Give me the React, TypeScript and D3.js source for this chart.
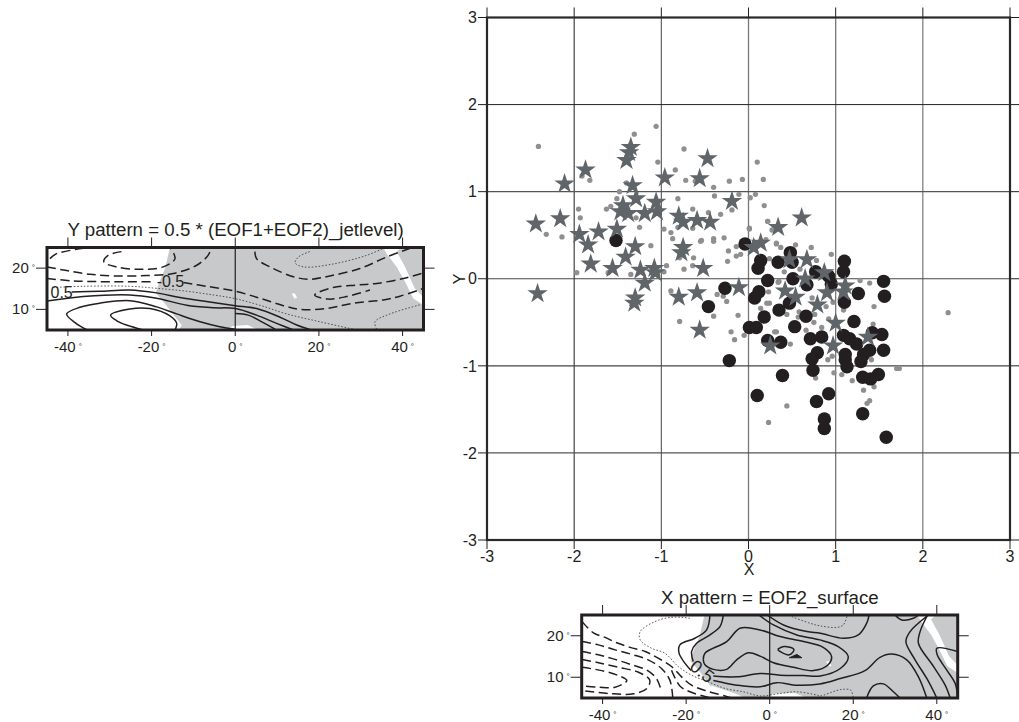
import React from "react";
import * as d3 from "d3";

type P = [number, number];

const starPoints: P[] = [[-1.35,1.51],[-1.37,1.45],[-1.40,1.36],[-0.47,1.38],[-1.87,1.25],[-2.11,1.09],[-0.96,1.16],[-0.56,1.15],[-1.33,1.07],[-1.29,0.92],[-1.06,0.88],[-0.19,0.89],[-1.44,0.84],[-1.47,0.77],[-1.38,0.75],[-1.19,0.75],[-1.05,0.77],[-0.80,0.72],[-0.75,0.65],[-0.59,0.67],[-0.44,0.65],[-2.16,0.69],[-2.44,0.63],[-1.51,0.57],[-1.72,0.54],[-1.94,0.51],[-1.84,0.39],[-1.30,0.37],[-0.75,0.36],[-0.77,0.30],[-1.41,0.25],[-1.81,0.17],[-1.56,0.12],[-1.24,0.10],[-1.08,0.12],[-1.07,0.07],[-0.52,0.12],[-1.19,-0.05],[-0.59,-0.16],[-0.80,-0.21],[-0.11,-0.10],[-1.30,-0.22],[-1.31,-0.28],[-2.42,-0.17],[-0.56,-0.59],[0.14,0.41],[0.06,0.36],[0.34,0.59],[0.61,0.70],[0.47,0.22],[0.67,0.22],[0.87,0.07],[0.65,0],[1.11,-0.08],[1.09,-0.15],[0.42,-0.14],[0.54,-0.21],[0.90,-0.16],[0.79,-0.30],[1.0,-0.51],[1.37,-0.67],[0.97,-0.77],[0.25,-0.77]];

const circlePoints: P[] = [[-1.52,0.44],[-0.04,0.40],[0.48,0.30],[0.14,0.21],[0.11,0.12],[0.34,0.19],[0.50,0.19],[0.22,-0.02],[0.51,0],[0.67,-0.07],[0.77,0.08],[0.92,0.03],[0.95,-0.06],[1.10,0.20],[1.09,0.08],[1.55,-0.03],[1.56,-0.20],[1.26,-0.17],[1.10,-0.27],[-0.27,-0.11],[-0.46,-0.32],[0.12,-0.15],[0.07,-0.22],[0.47,-0.28],[0.35,-0.36],[0.18,-0.44],[0.66,-0.43],[1.21,-0.49],[0.01,-0.56],[0.09,-0.56],[0.53,-0.55],[0.71,-0.69],[0.84,-0.67],[1.09,-0.65],[1.16,-0.69],[1.24,-0.75],[1.42,-0.62],[1.53,-0.64],[1.55,-0.82],[1.39,-0.82],[1.32,-0.87],[1.29,-0.95],[1.11,-0.87],[1.11,-0.93],[1.13,-1.01],[0.22,-0.71],[0.37,-0.73],[0.79,-0.85],[0.73,-0.92],[0.74,-1.05],[-0.22,-0.94],[0.39,-1.11],[1.31,-1.13],[1.40,-1.15],[1.49,-1.10],[0.10,-1.34],[0.78,-1.41],[0.92,-1.32],[1.31,-1.55],[0.87,-1.61],[0.87,-1.72],[1.58,-1.82]];

const dotPoints: P[] = [[-2.41,1.52],[-1.31,1.66],[-1.06,1.75],[-0.74,1.49],[-1.04,1.34],[-0.84,1.25],[0.10,1.34],[-1.91,1.18],[-1.82,1.13],[-0.72,1.13],[-0.61,1.12],[-0.22,1.12],[-0.07,1.14],[0.17,1.14],[-0.40,1.05],[-1.48,1.00],[-1.40,1.10],[-0.39,0.95],[-0.11,0.97],[0.08,0.97],[0.02,0.93],[-0.81,0.92],[-1.51,0.92],[-1.58,0.83],[-1.63,0.80],[-1.95,0.80],[0.18,0.84],[-1.93,0.70],[-0.64,0.80],[-0.19,0.79],[-0.46,0.76],[-0.32,0.74],[0.22,0.66],[-1.25,0.59],[-1.29,0.70],[-0.97,0.57],[-0.89,0.53],[-0.81,0.59],[-0.64,0.58],[0.01,0.58],[-2.32,0.51],[-2.14,0.48],[0.27,0.56],[-0.87,0.46],[-0.55,0.43],[-0.40,0.46],[-0.40,0.43],[-0.28,0.47],[0.20,0.45],[0.32,0.40],[-1.12,0.38],[-0.14,0.37],[-0.23,0.32],[-0.09,0.28],[-0.14,0.26],[-0.63,0.24],[-0.24,0.20],[-0.79,0.24],[-0.64,0.15],[-0.74,0.11],[-0.94,0.15],[-0.97,0.08],[-1.97,0.07],[-1.61,0.07],[-1.35,0.05],[-0.89,-0.14],[-0.36,-0.18],[-0.29,-0.20],[-0.25,-0.26],[-0.40,-0.43],[-0.12,-0.42],[-0.79,-0.49],[-0.20,-0.61],[-0.05,-0.65],[0.32,-0.61],[0.24,-0.28],[0.34,-0.04],[0.14,-0.34],[0.01,0.57],[-0.54,0.44],[0.22,0.66],[0.32,0.41],[0.37,0.36],[0.54,0.39],[0.72,0.36],[0.95,0.28],[0.24,0.23],[0.41,0.08],[0.59,0.11],[0.78,0.21],[0.35,-0.03],[1.28,-0.02],[1.39,-0.05],[1.44,-0.32],[0.23,-0.15],[0.21,-0.28],[-0.16,-0.70],[0.30,-0.61],[0.48,-0.75],[0.44,-0.41],[0.58,-0.38],[0.57,-0.44],[0.73,-0.22],[0.76,-0.41],[0.89,-0.32],[0.75,-0.50],[0.84,-0.56],[0.66,-0.59],[0.92,-0.46],[0.97,-0.27],[1.09,-0.36],[1.43,-0.52],[0.96,-0.89],[0.91,-0.93],[1.41,-0.93],[1.70,-1.03],[1.73,-1.03],[0.98,-1.08],[1.07,-1.10],[0.77,-1.14],[1.19,-1.17],[1.44,-1.24],[1.32,-1.28],[1.36,-1.43],[1.39,-1.40],[0.44,-1.46],[0.23,-1.65],[2.29,-0.39]];

const mainTicks = [-3, -2, -1, 0, 1, 2, 3];
const lonTicks = [-40, -20, 0, 20, 40];
const latTicks = [10, 20];

const land: P[] = [[-15.6,25],[-16.8,19.9],[-18.4,15.9],[-19,13.9],[-17.2,11.9],[-14.4,8.2],[-12.8,6.2],[-13.4,5],[45,5],[45,25]];
const redSea: P[] = [[35.4,25],[39.8,25],[38.6,24],[40.6,20.3],[42.9,15.1],[45,12.9],[45,11],[42.5,12.7],[40.6,16.7],[38.6,20.3],[36.2,23.5]];
const lakeSpot: P[] = [[13.5,13.8],[14.2,13.9],[14.8,12.8],[14.2,12.6]];
const gulfY: P[] = [[-3,5],[-0.5,6],[3,6.2],[5.5,5]];
const gulfX: P[] = [[-1,5],[1,6],[6,6.2],[9,5]];
const wedgeX: P[] = [[-14,8],[-8,6],[-6,5],[-14,5]];

const ySolid: P[][] = [
  [[-39.1,14.2],[-32.4,14.4],[-25.2,14.7],[-18.8,14],[-13.2,12.9],[-6.9,11.9],[0,10.9],[5.1,10.2],[10.7,8.1],[14.7,6.2],[18.2,5]],
  [[-45,12],[-36.3,13.1],[-25.2,13.5],[-18.8,12.7],[-11.6,11],[-5.3,10.4],[0,10.2],[5.1,8.6],[9.9,6.6],[13.9,5]],
  [[-35.4,5],[-38.3,6.8],[-40.3,8.9],[-37.1,10.5],[-32.4,11.5],[-25.2,12.1],[-18.8,10.6],[-14,8.9],[-8.4,7],[-3.7,5.8],[0,5.2]],
  [[0,9],[3.1,8.6],[6.7,6.8],[9.5,5.2]],
  [[-22,5],[-26,6.2],[-28.4,7.3],[-29.8,8.6],[-25.2,10.1],[-20.4,10.2],[-15.6,8.4],[-14,6.6],[-14.4,5]],
];
const yDashed: P[][] = [
  [[-44.3,22.3],[-42.7,23.5],[-36.3,24.8]],
  [[-45,20.3],[-40.3,19.4],[-34.7,18.5],[-28.4,18.1],[-21.2,18.2],[-14.8,18.7],[-9.2,20.7],[-6.5,23.1],[-5.7,25]],
  [[-27.2,24],[-30.4,23.1],[-31.4,21.5],[-28.4,20.3],[-22.8,19.7],[-17.2,20.3],[-14.4,22.3],[-15.6,25]],
  [[-45,17.5],[-38.7,16.9],[-30,16.7],[-19.6,16.7]],
  [[-12.4,16.5],[-6.9,15.6],[0,14.4],[5.9,12.7],[11.5,10.9],[15.5,10],[21.8,10.2],[28.2,11.5],[35.4,12.3],[39.4,13.2],[45,15.1]],
  [[4.7,24],[5.1,22.3],[8.3,20.3],[13.9,17.9],[17.8,17.3],[22.6,18.1],[29.8,19.9],[36.2,22.7],[41.8,24.8]],
  [[44.5,18.7],[40.2,17.5],[33.8,16.3],[29,15.9],[23.4,15.3],[19,13.5],[22.2,12.5],[26.6,13.1],[32.2,14.7]],
];
const yDotted: P[][] = [
  [[-43.5,15.3],[-36.3,15.6],[-25.2,15.6],[-18.8,15.1],[-11.6,14.4],[-5.3,13.5],[0,12.6],[5.9,11],[12.3,8.9],[20.2,7],[28.2,5.2]],
  [[17.8,24],[15.1,22.7],[14.3,21.3],[16.3,20.3],[23.4,21],[31.4,23.1],[35.4,24.8]],
  [[33.8,5.2],[33.4,7],[37,8.9],[44.5,11.2]],
];

const xSolid: P[][] = [
  [[-14.3,25],[-15.1,21.4],[-17.9,19.4],[-21.5,17.8],[-21.7,15.8],[-20.3,13.4],[-18.8,11.6]],
  [[-11.1,25],[-11.9,22.2],[-14.3,20.2],[-17.5,18.2],[-18.7,16.2],[-18.3,13.8]],
  [[-15.9,14.2],[-15.5,15.8],[-10.3,18.6],[-7.1,21.8],[-2.3,21.4],[2.5,19.8],[8.1,18.6],[12.8,17.2],[14.8,15],[14,13],[10.5,11.6],[5.7,12.4],[0.9,13.5],[-2.3,15.1],[-5.1,15.9],[-7.9,14.2],[-10.3,11.9],[-13.5,11.9],[-15.5,13],[-15.9,14.2]],
  [[1.9,16.7],[3.4,17.4],[5.8,16.7],[4.7,15.4],[2.5,16.2],[1.9,16.7]],
  [[-0.6,25],[3.3,22.6],[8.9,21],[12.1,20.6],[17.6,19.4],[21.2,20.2],[23.2,23],[23.8,25]],
  [[-2.6,25],[0.9,22.6],[6.5,20.2],[12,19],[16.4,17.4],[18.8,15],[16.9,12.1],[12.1,10.3],[8.1,10.4],[2.5,10.5],[-2.3,10.9],[-7.9,10.1],[-13.5,10.3]],
  [[-13.5,9.2],[-7.9,8.1],[-2.3,7.7],[1.7,8.7],[6.1,8.1],[12,8.4],[16.9,9.7],[22.8,11.6],[26.4,14.8],[29.2,15.6],[32.8,14.2],[35.6,10.1],[37.6,5]],
  [[38,25],[33.6,21],[32.6,18.6],[34.8,14.2],[37.6,9.7],[40,5]],
  [[37.8,25],[36,21],[35.6,18.2],[39.2,12.6],[42,8.1],[43.2,5]],
  [[45,16.2],[40,17],[40.1,15.4],[42.4,11.7],[44.4,8.5],[45,5]],
  [[30,25],[31.6,23.8],[34.4,24.2],[35.6,25]],
  [[23.2,5],[24.8,7.9],[27.2,8.4],[29.6,6.5],[31.2,5]],
];
const xBlob: P[] = [[4.7,14.7],[6.5,15.5],[7.7,14.7]];
const xDashed: P[][] = [
  [[-44.9,23.4],[-42.2,20.7],[-39.4,19.6],[-36.6,18.3],[-33.4,17.2],[-29.8,16.2],[-26.7,14.6],[-23.5,12.6],[-21.1,10.1],[-18.7,8.1],[-15.1,6.7],[-10.7,5.5],[-9.1,5]],
  [[-44.9,18.6],[-41,17.8],[-37,16.6],[-33,15.5],[-29.1,14.2],[-25.9,12.1],[-23.9,9.3],[-23.2,5]],
  [[-44.9,16.2],[-41,15.4],[-37,14.3],[-33,13],[-29.4,11.7],[-27.1,9.7],[-26,6.9]],
  [[-44.9,14.3],[-41,13.5],[-36.2,12.4],[-31.4,11.2],[-28.7,9.3],[-29.4,7.3],[-32.6,6],[-38.6,6.1],[-44.9,6.8]],
  [[-44.9,12.4],[-40.2,11.6],[-36.2,10.4],[-34.2,9.2],[-37,7.6],[-41,7.6],[-44.9,7.9]],
  [[-23.5,11.7],[-21.5,7.9],[-19.1,6.5],[-15.9,5.5],[-13.9,5]],
];
const xDotted: P[][] = [
  [[-19.1,24.2],[-20.7,24.4],[-23.9,24.4],[-27.5,23.4],[-31,21],[-31,19],[-28.3,17],[-25.1,15.8],[-21.9,12.6],[-18.7,10.5],[-14.7,8.9],[-10.7,7.3],[-6.3,6.5],[-2.3,5.5],[2.5,6.1],[6.5,6.5],[11.3,5.7],[12.1,5.5],[16,6.8],[17.6,7.1],[19.4,6.9],[20,5]],
  [[5.3,24.6],[9.7,23],[12,22.4],[16,22],[17.6,22.6],[18.6,25]],
];

const FONT = "'Liberation Sans', Arial, Helvetica, sans-serif";
const INK = "#231f20";
const LAND = "#c7c9cb";

const MAIN = { left: 487, right: 1010, top: 17.5, bottom: 540 };
const mx = d3.scaleLinear().domain([-3, 3]).range([MAIN.left, MAIN.right]);
const my = d3.scaleLinear().domain([-3, 3]).range([MAIN.bottom, MAIN.top]);

const starPath = d3.symbol().type(d3.symbolStar).size(130)()!;
const circlePath = d3.symbol().type(d3.symbolCircle).size(142)()!;
const dotPath = d3.symbol().type(d3.symbolCircle).size(22)()!;

const vGrid: Record<number, [string, number]> = { "-2": ["#1c1c1c", 1], "-1": ["#555", 1.1], "0": ["#777", 1.3], "1": ["#777", 1.3], "2": ["#777", 1.2] };
const hGrid: Record<number, [string, number]> = { "-2": ["#555", 1.1], "-1": ["#444", 1.1], "0": ["#444", 1.1], "1": ["#555", 1.1], "2": ["#222", 1] };

function MainPlot() {
  return (
    <g fontFamily={FONT} fontSize={16} fill={INK}>
      {mainTicks.slice(1, -1).map((t) => (
        <line key={"v" + t} x1={mx(t)} x2={mx(t)} y1={MAIN.top} y2={MAIN.bottom} stroke={vGrid[t][0]} strokeWidth={vGrid[t][1]} />
      ))}
      {mainTicks.slice(1, -1).map((t) => (
        <line key={"h" + t} x1={MAIN.left} x2={MAIN.right} y1={my(t)} y2={my(t)} stroke={hGrid[t][0]} strokeWidth={hGrid[t][1]} />
      ))}
      {mainTicks.map((t) => (
        <g key={"t" + t}>
          <line x1={mx(t)} x2={mx(t)} y1={MAIN.top - 10} y2={MAIN.top} stroke={INK} strokeWidth={1} />
          <line x1={mx(t)} x2={mx(t)} y1={MAIN.bottom} y2={MAIN.bottom + 9} stroke={INK} strokeWidth={1} />
          <line x1={MAIN.left - 9} x2={MAIN.left} y1={my(t)} y2={my(t)} stroke={INK} strokeWidth={1} />
          <line x1={MAIN.right} x2={MAIN.right + 9} y1={my(t)} y2={my(t)} stroke={INK} strokeWidth={1} />
          <text x={mx(t)} y={561.5} textAnchor="middle">{t}</text>
          <text x={477} y={my(t) + 5.7} textAnchor="end">{t}</text>
        </g>
      ))}
      <text x={749} y={575} textAnchor="middle">X</text>
      <text transform={`translate(465,279) rotate(-90)`} textAnchor="middle">Y</text>
      {dotPoints.map((d, i) => (
        <path key={"d" + i} d={dotPath} transform={`translate(${mx(d[0])},${my(d[1])})`} fill="#8f8f8f" />
      ))}
      {circlePoints.map((d, i) => (
        <path key={"c" + i} d={circlePath} transform={`translate(${mx(d[0])},${my(d[1])})`} fill={INK} />
      ))}
      {starPoints.map((d, i) => (
        <path key={"s" + i} d={starPath} transform={`translate(${mx(d[0])},${my(d[1])})`} fill="#5f6568" />
      ))}
      <rect x={MAIN.left} y={MAIN.top} width={MAIN.right - MAIN.left} height={MAIN.bottom - MAIN.top} fill="none" stroke="#2b2829" strokeWidth={2.2} />
    </g>
  );
}

interface MapProps {
  id: string;
  title: string;
  titleX: number;
  titleY: number;
  left: number;
  right: number;
  top: number;
  bottom: number;
  patches: P[][];
  solid: P[][];
  dashed: P[][];
  dotted: P[][];
  blob?: P[];
  labels: { text: string; lon: number; lat: number; rotate?: number }[];
}

function MapPanel(p: MapProps) {
  const x = d3.scaleLinear().domain([-45, 45]).range([p.left, p.right]);
  const y = d3.scaleLinear().domain([5, 25]).range([p.bottom, p.top]);
  const curve = d3.line<P>().x((d) => x(d[0])).y((d) => y(d[1])).curve(d3.curveCatmullRom.alpha(0.5));
  const poly = d3.line<P>().x((d) => x(d[0])).y((d) => y(d[1])).curve(d3.curveLinear);
  return (
    <g fontFamily={FONT} fill={INK}>
      <clipPath id={p.id}>
        <rect x={p.left} y={p.top} width={p.right - p.left} height={p.bottom - p.top} />
      </clipPath>
      <g clipPath={`url(#${p.id})`}>
        <path d={poly(land)! + "Z"} fill={LAND} />
        {p.patches.map((q, i) => (
          <path key={i} d={poly(q)! + "Z"} fill="#fff" />
        ))}
        {p.dotted.map((q, i) => (
          <path key={i} d={curve(q)!} fill="none" stroke="#333" strokeWidth={0.8} strokeDasharray="1.6 1.8" />
        ))}
        {p.dashed.map((q, i) => (
          <path key={i} d={curve(q)!} fill="none" stroke={INK} strokeWidth={1.5} strokeDasharray="9 4.5" />
        ))}
        {p.solid.map((q, i) => (
          <path key={i} d={curve(q)!} fill="none" stroke={INK} strokeWidth={1.5} />
        ))}
        {p.blob && <path d={poly(p.blob)! + "Z"} fill={INK} stroke={INK} />}
      </g>
      <line x1={x(0)} x2={x(0)} y1={p.top} y2={p.bottom} stroke={INK} strokeWidth={1.2} />
      {lonTicks.map((t) => (
        <g key={t}>
          <line x1={x(t)} x2={x(t)} y1={p.top - 10} y2={p.top} stroke={INK} strokeWidth={1} />
          <line x1={x(t)} x2={x(t)} y1={p.bottom} y2={p.bottom + 6} stroke={INK} strokeWidth={1} />
          <text x={x(t)} y={p.bottom + 21.5} fontSize={15} textAnchor="middle">
            {t}
            <tspan fontSize={8} dx={3} dy={-3}>°</tspan>
          </text>
        </g>
      ))}
      {latTicks.map((t) => (
        <g key={t}>
          <line x1={p.left - 11} x2={p.left} y1={y(t)} y2={y(t)} stroke={INK} strokeWidth={1} />
          <line x1={p.right} x2={p.right + 11} y1={y(t)} y2={y(t)} stroke={INK} strokeWidth={1} />
          <text x={p.left - 12} y={y(t) + 5} fontSize={15} textAnchor="end">
            {t}
            <tspan fontSize={8} dx={3} dy={-3}>°</tspan>
          </text>
        </g>
      ))}
      <rect x={p.left} y={p.top} width={p.right - p.left} height={p.bottom - p.top} fill="none" stroke={INK} strokeWidth={3} />
      {p.labels.map((l, i) => (
        <text key={i} transform={`translate(${x(l.lon)},${y(l.lat)}) rotate(${l.rotate ?? 0})`} fontSize={l.rotate ? 18 : 16} textAnchor="middle" dominantBaseline="central">
          {l.text}
        </text>
      ))}
      <text x={p.titleX} y={p.titleY} fontSize={18.7}>{p.title}</text>
    </g>
  );
}

export default function App() {
  return (
    <svg width={1019} height={722} style={{ position: "absolute", left: 0, top: 0, display: "block", background: "#fff" }}>
      <MainPlot />
      <MapPanel
        id="clipY"
        title="Y pattern = 0.5 * (EOF1+EOF2)_jetlevel)"
        titleX={67.5}
        titleY={236}
        left={47}
        right={423.5}
        top={247.5}
        bottom={330}
        patches={[redSea, lakeSpot, gulfY]}
        solid={ySolid}
        dashed={yDashed}
        dotted={yDotted}
        labels={[
          { text: "0.5", lon: -41.5, lat: 14.1 },
          { text: "-0.5", lon: -15.5, lat: 16.7 },
        ]}
      />
      <MapPanel
        id="clipX"
        title="X pattern = EOF2_surface"
        titleX={661}
        titleY={604}
        left={581.7}
        right={957.7}
        top={615}
        bottom={698}
        patches={[redSea, lakeSpot, gulfX, wedgeX]}
        solid={xSolid}
        dashed={xDashed}
        dotted={xDotted}
        blob={xBlob}
        labels={[{ text: "0.5", lon: -16.2, lat: 11.4, rotate: 38 }]}
      />
    </svg>
  );
}
